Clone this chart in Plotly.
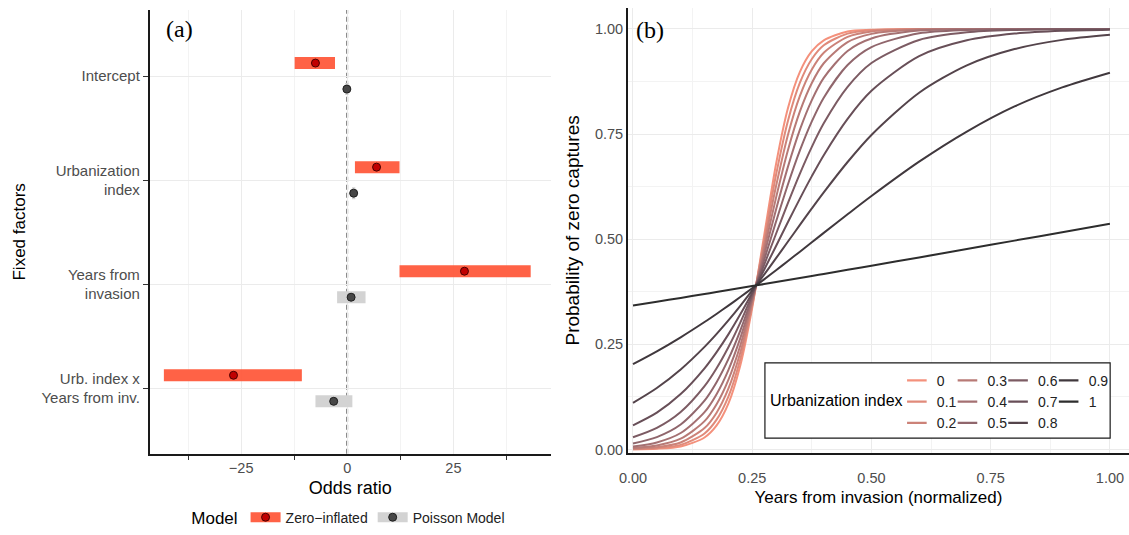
import plotly.graph_objects as go

# ---------------- Panel (a): coefficient estimates ----------------
factors = ["Intercept", "Urbanization<br>index", "Years from<br>invasion",
           "Urb. index x<br>Years from inv."]
factor_pos = [4, 3, 2, 1]
zi_est = [-7.5, 6.9, 27.6, -26.8]
zi_lo = [-12.4, 1.8, 12.3, -43.2]
zi_hi = [-2.9, 12.3, 43.2, -10.7]
pm_est = [-0.1, 1.5, 0.9, -3.2]
pm_lo = [-0.5, 1.1, -2.4, -7.5]
pm_hi = [0.3, 1.9, 4.3, 1.2]

# ---------------- Panel (b): predicted probabilities ----------------
years = [0, 0.05, 0.1, 0.15, 0.175, 0.2, 0.225, 0.25, 0.275, 0.3, 0.325, 0.35,
         0.375, 0.4, 0.45, 0.5, 0.6, 0.7, 0.8, 0.9, 1.0]
urban_index = ["0", "0.1", "0.2", "0.3", "0.4", "0.5", "0.6", "0.7", "0.8", "0.9", "1"]
p_u00 = [0.0004, 0.0017, 0.0070, 0.0286, 0.0566, 0.1091, 0.1998, 0.337, 0.509, 0.679, 0.812,
         0.898, 0.947, 0.973, 0.994, 0.998, 1.0, 1.0, 1.0, 1.0, 1.0]
p_u01 = [0.0008, 0.0030, 0.0109, 0.0382, 0.0703, 0.1257, 0.2148, 0.3423, 0.4976, 0.6533, 0.7819,
         0.8722, 0.9285, 0.9611, 0.9889, 0.9969, 0.9998, 1.0, 1.0, 1.0, 1.0]
p_u02 = [0.0017, 0.0054, 0.0167, 0.0509, 0.0868, 0.1445, 0.2307, 0.3473, 0.4858, 0.6265, 0.7486,
         0.8410, 0.9037, 0.9434, 0.9813, 0.9940, 0.9994, 0.9999, 1.0, 1.0, 1.0]
p_u03 = [0.0035, 0.0095, 0.0257, 0.0674, 0.1070, 0.1655, 0.2473, 0.3524, 0.4741, 0.5989, 0.7121,
         0.8038, 0.8716, 0.9184, 0.9686, 0.9883, 0.9984, 0.9998, 1.0, 1.0, 1.0]
p_u04 = [0.0071, 0.0168, 0.0392, 0.0888, 0.1310, 0.1888, 0.2647, 0.3575, 0.4623, 0.5707, 0.6726,
         0.7605, 0.8308, 0.8836, 0.9477, 0.9774, 0.9960, 0.9993, 0.9999, 1.0, 1.0]
p_u05 = [0.0144, 0.0295, 0.0594, 0.1162, 0.1594, 0.2147, 0.2829, 0.3626, 0.4507, 0.5420, 0.6306,
         0.7111, 0.7802, 0.8366, 0.9142, 0.9568, 0.9897, 0.9976, 0.9994, 0.9999, 1.0]
p_u06 = [0.0290, 0.0513, 0.0891, 0.1506, 0.1926, 0.2431, 0.3017, 0.3677, 0.4391, 0.5130, 0.5864,
         0.6561, 0.7197, 0.7756, 0.8622, 0.9190, 0.9738, 0.9919, 0.9975, 0.9992, 0.9998]
p_u07 = [0.0575, 0.0877, 0.1317, 0.1930, 0.2310, 0.2738, 0.3214, 0.3729, 0.4275, 0.4839, 0.5408,
         0.5966, 0.6500, 0.6999, 0.7862, 0.8529, 0.9352, 0.9729, 0.9889, 0.9955, 0.9982]
p_u08 = [0.1108, 0.1461, 0.1902, 0.2439, 0.2743, 0.3069, 0.3416, 0.3781, 0.4160, 0.4549, 0.4945,
         0.5340, 0.5732, 0.6114, 0.6836, 0.7479, 0.8483, 0.9134, 0.9521, 0.9740, 0.9860]
p_u09 = [0.2029, 0.2334, 0.2668, 0.3031, 0.3223, 0.3421, 0.3625, 0.3833, 0.4046, 0.4263, 0.4482,
         0.4704, 0.4927, 0.5150, 0.5593, 0.6027, 0.6844, 0.7560, 0.8158, 0.8610, 0.8960]
p_u10 = [0.3423, 0.3513, 0.3604, 0.3697, 0.3744, 0.3791, 0.3838, 0.3886, 0.3933, 0.3981, 0.4029,
         0.4077, 0.4126, 0.4174, 0.4272, 0.4370, 0.4568, 0.4767, 0.4967, 0.5166, 0.5366]
curves = [p_u00, p_u01, p_u02, p_u03, p_u04, p_u05, p_u06, p_u07, p_u08, p_u09, p_u10]

# ---------------- styles ----------------
curve_colors = ["#F4917C", "#E08A7A", "#CC8278", "#B87A76", "#A47072", "#90666C",
                "#7C5B63", "#684F58", "#54444B", "#40383D", "#2D2D2D"]
legend_cols = ["legend2"] * 3 + ["legend3"] * 3 + ["legend4"] * 3 + ["legend5"] * 2
FONT = "Liberation Sans, Arial, sans-serif"
TICK_COL = "#4D4D4D"
GRID = "#EBEBEB"
GRID_MINOR = "#F3F3F3"
DODGE = 0.125
TRANSP = "rgba(0,0,0,0)"

fig = go.Figure()


def model_trace(name, est, lo, hi, offset, bar_col, pt_col, pt_line):
    xs, ys, mc, mlc = [], [], [], []
    for e, l, h, p in zip(est, lo, hi, factor_pos):
        xs += [e, l, h, None]
        ys += [p + offset] * 3 + [None]
        mc += [pt_col, TRANSP, TRANSP, TRANSP]
        mlc += [pt_line, TRANSP, TRANSP, TRANSP]
    return go.Scatter(
        x=xs, y=ys, mode="lines+markers", name=name,
        line=dict(color=bar_col, width=12),
        marker=dict(size=8, color=mc, line=dict(color=mlc, width=1)),
        xaxis="x", yaxis="y", legend="legend", connectgaps=False,
        hoverinfo="skip")


fig.add_trace(model_trace("Zero\u2212inflated", zi_est, zi_lo, zi_hi, DODGE,
                          "rgba(255,90,60,0.95)", "#C00000", "#4A0000"))
fig.add_trace(model_trace("Poisson Model", pm_est, pm_lo, pm_hi, -DODGE,
                          "#D3D3D3", "#474747", "#1F1F1F"))

for name, vals, col in zip(urban_index, curves, curve_colors):
    fig.add_trace(go.Scatter(
        x=years, y=vals, mode="lines", name=name, showlegend=False,
        line=dict(color=col, width=2, shape="spline", smoothing=0.8),
        xaxis="x2", yaxis="y2", hoverinfo="skip"))

# compact legend keys (short line glyphs) for the urbanization-index curves
for name, col, lg in zip(urban_index, curve_colors, legend_cols):
    fig.add_trace(go.Scatter(
        x=[None], y=[None], mode="markers", name=name, legend=lg,
        marker=dict(symbol="line-ew", size=14, color=col, line=dict(color=col, width=2.2)),
        xaxis="x2", yaxis="y2", hoverinfo="skip"))

W, H = 1129, 535


def px(x):
    return x / W


def py(y):
    return 1 - y / H


def axis_base(tick_size):
    return dict(showline=True, linecolor="#1A1A1A", linewidth=2, zeroline=False,
                gridcolor=GRID, gridwidth=1,
                tickfont=dict(family=FONT, size=tick_size, color=TICK_COL))


def title_font(size):
    return dict(family=FONT, size=size, color="#000")


leg_common = dict(orientation="v", bgcolor=TRANSP, borderwidth=0, traceorder="normal",
                  font=dict(family=FONT, size=14, color="#222"),
                  xanchor="left", yanchor="top", y=py(369), tracegroupgap=0)
col_left = [895, 946, 997, 1048]

fig.update_layout(
    width=W, height=H, margin=dict(l=0, r=0, t=0, b=0),
    paper_bgcolor="white", plot_bgcolor="white",
    font=dict(family=FONT),
    xaxis=dict(domain=[px(142), px(546)], range=[-46.5, 47.9],
               tickmode="array", tickvals=[-25, 0, 25], ticks="",
               minor=dict(tickmode="array", tickvals=[-37.5, -12.5, 12.5, 37.5],
                          ticks="outside", ticklen=4, tickcolor="#333", tickwidth=1.3,
                          showgrid=True, gridcolor=GRID_MINOR),
               title=dict(text="Odds ratio", standoff=6, font=title_font(18)),
               anchor="y", **axis_base(14.5)),
    yaxis=dict(domain=[py(459), py(10)], range=[0.37, 4.636],
               tickmode="array", tickvals=factor_pos, ticktext=factors,
               ticks="outside", ticklen=5, tickcolor="#333", tickwidth=1.3,
               title=dict(text="Fixed factors", standoff=12, font=title_font(17)),
               anchor="x", **axis_base(15)),
    xaxis2=dict(domain=[px(624), 1.0], range=[-0.0104, 1.04],
                tickmode="linear", tick0=0, dtick=0.25, tickformat=".2f", ticks="",
                ticklabelstandoff=11,
                minor=dict(dtick=0.125, tick0=0, showgrid=True, gridcolor=GRID_MINOR),
                title=dict(text="Years from invasion (normalized)", standoff=6,
                           font=title_font(17)),
                anchor="y2", **axis_base(14.5)),
    yaxis2=dict(domain=[py(458), py(8)], range=[-0.008, 1.05],
                tickmode="linear", tick0=0, dtick=0.25, tickformat=".2f", ticks="",
                minor=dict(dtick=0.125, tick0=0, showgrid=True, gridcolor=GRID_MINOR),
                title=dict(text="Probability of zero captures", standoff=10,
                           font=title_font(19)),
                anchor="x2", **axis_base(14.5)),
    legend=dict(orientation="h", x=px(343.5), xanchor="center", y=py(524), yanchor="middle",
                traceorder="normal",
                bgcolor=TRANSP, font=dict(family=FONT, size=14, color="#222"),
                title=dict(text="Model", side="left", font=title_font(17))),
    legend2=dict(x=px(col_left[0]), **leg_common),
    legend3=dict(x=px(col_left[1]), **leg_common),
    legend4=dict(x=px(col_left[2]), **leg_common),
    legend5=dict(x=px(col_left[3]), **leg_common),
    showlegend=True,
)

# dashed reference line at odds ratio 0
fig.add_shape(type="line", xref="x", yref="y domain", x0=0, x1=0, y0=0, y1=1,
              line=dict(color="#222", width=1.6, dash="5px,3px"), layer="below")

# legend box of panel (b)
fig.add_shape(type="rect", xref="paper", yref="paper", x0=px(762), x1=px(1110),
              y0=py(443), y1=py(367), fillcolor="white",
              line=dict(color="#1A1A1A", width=1.2), layer="above")

fig.add_annotation(text="Urbanization index", xref="paper", yref="paper",
                   x=px(903), y=py(405), xanchor="right", yanchor="middle", showarrow=False,
                   font=dict(family=FONT, size=16, color="#000"))
fig.add_annotation(text="(a)", xref="paper", yref="paper", x=px(172), y=py(29),
                   xanchor="center", yanchor="middle", showarrow=False,
                   font=dict(family="Liberation Serif, Times New Roman, serif", size=24, color="#000"))
fig.add_annotation(text="(b)", xref="paper", yref="paper", x=px(646), y=py(30),
                   xanchor="center", yanchor="middle", showarrow=False,
                   font=dict(family="Liberation Serif, Times New Roman, serif", size=24, color="#000"))

fig.write_html("out.html", config={"displayModeBar": False},
               post_script="document.body.style.margin='0px';")
